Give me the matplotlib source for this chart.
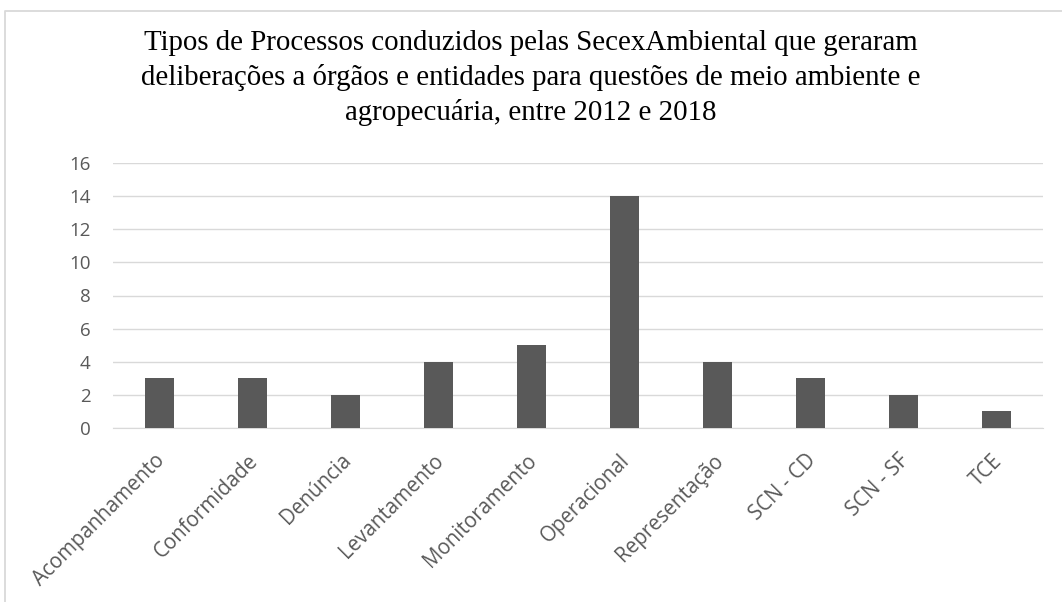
import matplotlib
matplotlib.use("Agg")
import matplotlib.pyplot as plt
from matplotlib.lines import Line2D
from matplotlib.transforms import ScaledTranslation

categories = ["Acompanhamento", "Conformidade", "Denúncia", "Levantamento",
              "Monitoramento", "Operacional", "Representação", "SCN - CD",
              "SCN - SF", "TCE"]
values = [3, 3, 2, 4, 5, 14, 4, 3, 2, 1]
yticks = [0, 2, 4, 6, 8, 10, 12, 14, 16]

title = ("Tipos de Processos conduzidos pelas SecexAmbiental que geraram\n"
         "deliberações a órgãos e entidades para questões de meio ambiente e\n"
         "agropecuária, entre 2012 e 2018")

W, H = 1062, 602
fig = plt.figure(figsize=(W / 100, H / 100), dpi=100)
ax = fig.add_axes([113 / W, 1 - 428 / H, (1043 - 113) / W, (428 - 163) / H])

# chart frame: only top and left edges are visible in the cropped original
fx, fy = 4.5 / W, 1 - 11 / H
fig.add_artist(Line2D([fx, fx, 1.0], [0.0, fy, fy], transform=fig.transFigure,
                      color="#d9d9d9", linewidth=1.3))

x = range(len(categories))
ax.bar(x, values, width=0.32, color="#595959", zorder=3)

ax.set_xlim(-0.5, len(categories) - 0.5)
ax.set_ylim(0, 16)
ax.set_yticks(yticks)
ax.yaxis.grid(True, color="#d9d9d9", linewidth=1.0, zorder=0)
for s in ["top", "right", "left"]:
    ax.spines[s].set_visible(False)
ax.spines["bottom"].set_color("#d9d9d9")
ax.tick_params(axis="both", length=0, colors="#595959")
ax.tick_params(axis="y", pad=16)
ax.tick_params(axis="x", pad=16)
ax.set_xticks(list(x))
ax.set_xticklabels(categories, rotation=45, ha="right", rotation_mode="anchor",
                   fontfamily="Open Sans", fontsize=14.8)
shift = ScaledTranslation(-5 / 100, 0, fig.dpi_scale_trans)
for lab in ax.get_xticklabels():
    lab.set_transform(lab.get_transform() + shift)
for lab in ax.get_yticklabels():
    lab.set_fontfamily("Open Sans")
    lab.set_fontsize(13.5)

fig.text(0.5, 1 - 78 / H, title, ha="center", va="center",
         fontfamily="Liberation Serif", fontsize=20.8, color="#000000",
         linespacing=1.36)

fig.savefig("out.png", dpi=100)
